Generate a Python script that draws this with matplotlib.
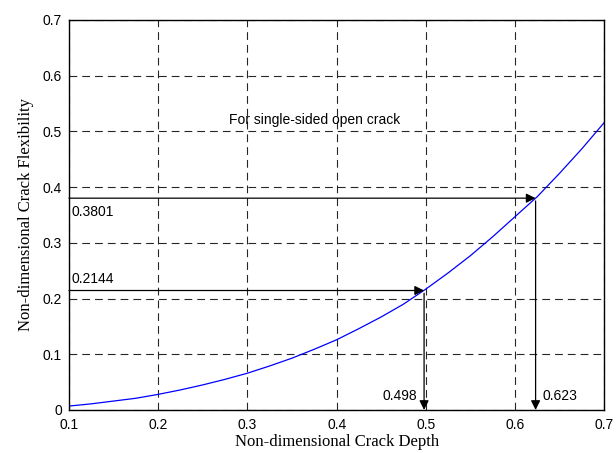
import numpy as np
import matplotlib.pyplot as plt

# crack depth vs flexibility
depth = [0.100, 0.125, 0.150, 0.175, 0.200, 0.225, 0.250, 0.275, 0.300, 0.325,
         0.350, 0.375, 0.400, 0.425, 0.450, 0.475, 0.500, 0.525, 0.550, 0.575,
         0.600, 0.625, 0.650, 0.675, 0.700]
flex = [0.007, 0.011, 0.016, 0.021, 0.028, 0.036, 0.045, 0.055, 0.066, 0.079,
        0.093, 0.109, 0.126, 0.146, 0.167, 0.190, 0.217, 0.246, 0.277, 0.311,
        0.347, 0.383, 0.425, 0.469, 0.516]

# marked points
mark_x = [0.498, 0.623]
mark_y = [0.2144, 0.3801]

fig = plt.figure(figsize=(6.16, 4.53), dpi=100)
ax = fig.add_axes([0.112, 0.095, 0.869, 0.861])

ax.plot(depth, flex, color='#0000ff', lw=0.9)

ax.set_xlim(0.1, 0.7)
ax.set_ylim(0, 0.7)
ax.set_xticks(np.arange(0.1, 0.71, 0.1))
ax.set_yticks(np.arange(0, 0.71, 0.1))
ax.set_xticklabels(['0.1', '0.2', '0.3', '0.4', '0.5', '0.6', '0.7'])
ax.set_yticklabels(['0', '0.1', '0.2', '0.3', '0.4', '0.5', '0.6', '0.7'])
ax.grid(True, color='black', ls=(0, (7, 4.5)), lw=0.8, alpha=0.85)
ax.tick_params(direction='in', length=0, labelsize=10)
ax.tick_params(axis='x', pad=6)
ax.tick_params(axis='y', pad=5)
for lab in ax.get_xticklabels() + ax.get_yticklabels():
    lab.set_family('Liberation Sans')
for s in ax.spines.values():
    s.set_linewidth(1.0)

ax.set_xlabel('Non-dimensional Crack Depth', family='Liberation Serif', fontsize=12, labelpad=1)
ax.set_ylabel('Non-dimensional Crack Flexibility', family='Liberation Serif', fontsize=12, labelpad=6)

arrow = dict(arrowstyle='-|>', color='black', lw=0.9, mutation_scale=14, shrinkA=0, shrinkB=0)
for mx, my in zip(mark_x, mark_y):
    ax.annotate('', xy=(mx, my), xytext=(0.1, my), arrowprops=arrow)
    ax.annotate('', xy=(mx, 0), xytext=(mx, my - 0.005), arrowprops=arrow)

ax.text(0.103, mark_y[1] - 0.012, '0.3801', fontsize=10, family='Liberation Sans', va='top')
ax.text(0.103, mark_y[0] + 0.008, '0.2144', fontsize=10, family='Liberation Sans', va='bottom')
ax.text(mark_x[0] - 0.008, 0.025, '0.498', fontsize=10, family='Liberation Sans', ha='right', va='center')
ax.text(mark_x[1] + 0.008, 0.025, '0.623', fontsize=10, family='Liberation Sans', ha='left', va='center')

ax.text(0.375, 0.52, 'For single-sided open crack', fontsize=10, family='Liberation Sans', ha='center', va='center')

fig.savefig('out.png', dpi=100)
